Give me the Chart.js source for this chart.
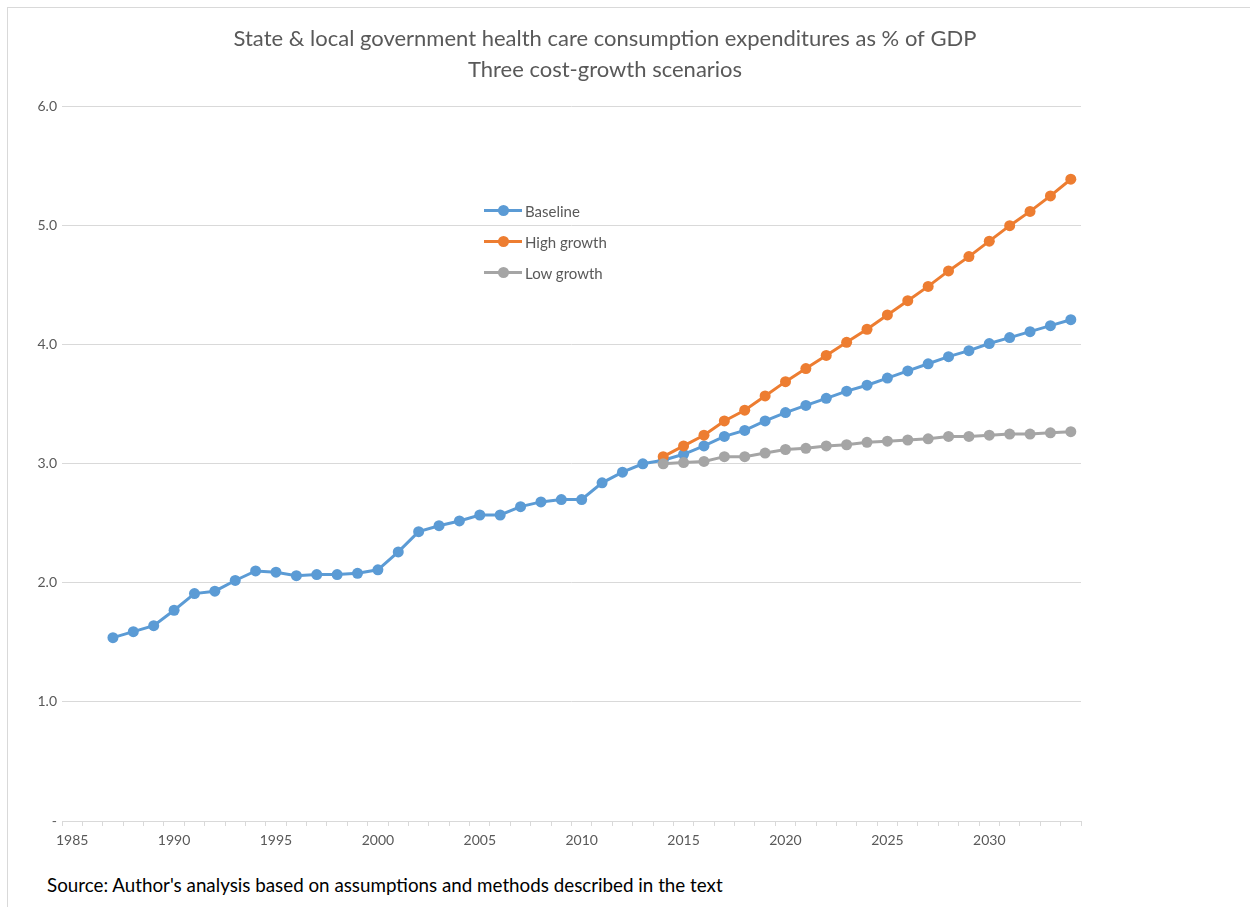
<!DOCTYPE html>
<html>
<head>
<meta charset="utf-8">
<script src="https://cdn.jsdelivr.net/npm/chart.js@4.4.0/dist/chart.umd.min.js"></script>
<style>
    body { margin: 0; background: #fff; font-family: Lato, "Noto Sans", sans-serif; }
    #frame {
        position: absolute; left: 7px; top: 7px; width: 1243px; height: 900px;
        border-top: 1px solid #d9d9d9; border-left: 1px solid #d9d9d9;
    }
    #wrap { position: absolute; left: 0; top: 0; width: 1210px; height: 860px; }
    #legend { position: absolute; left: 484px; top: 195px; }
    .legend-item { display: flex; align-items: center; height: 31px; font-size: 15px; color: #595959; }
    .legend-swatch { position: relative; width: 38px; height: 3px; margin-right: 3px; }
    .legend-swatch span {
        position: absolute; left: 14px; top: -4px; width: 11px; height: 11px; border-radius: 50%;
    }
    #source { position: absolute; left: 47px; top: 873px; font-size: 18.8px; color: #000; }
</style>
</head>
<body>
<div id="frame"></div>
<div id="wrap"><canvas id="chart"></canvas></div>
<div id="legend"></div>
<div id="source">Source: Author's analysis based on assumptions and methods described in the text</div>

<script>
const years = [];
for (let y = 1985; y <= 2034; y++) years.push(String(y));

const tickLabels = ["1985", "1990", "1995", "2000", "2005", "2010", "2015", "2020", "2025", "2030"];

// 1985..2034 (null = no value)
const baseline = [
    null, null,
    1.54, 1.59, 1.64, 1.77, 1.91, 1.93, 2.02, 2.10, 2.09, 2.06,
    2.07, 2.07, 2.08, 2.11, 2.26, 2.43, 2.48, 2.52, 2.57, 2.57,
    2.64, 2.68, 2.70, 2.70, 2.84, 2.93, 3.00, 3.03, 3.08, 3.15,
    3.23, 3.28, 3.36, 3.43, 3.49, 3.55, 3.61, 3.66, 3.72, 3.78,
    3.84, 3.90, 3.95, 4.01, 4.06, 4.11, 4.16, 4.21
];

const highGrowth = [
    null, null, null, null, null, null, null, null, null, null,
    null, null, null, null, null, null, null, null, null, null,
    null, null, null, null, null, null, null, null, null,
    3.06, 3.15, 3.24, 3.36, 3.45, 3.57, 3.69, 3.80, 3.91, 4.02,
    4.13, 4.25, 4.37, 4.49, 4.62, 4.74, 4.87, 5.00, 5.12, 5.25, 5.39
];

const lowGrowth = [
    null, null, null, null, null, null, null, null, null, null,
    null, null, null, null, null, null, null, null, null, null,
    null, null, null, null, null, null, null, null, null,
    3.00, 3.01, 3.02, 3.06, 3.06, 3.09, 3.12, 3.13, 3.15, 3.16,
    3.18, 3.19, 3.20, 3.21, 3.23, 3.23, 3.24, 3.25, 3.25, 3.26, 3.27
];

const titleLines = [
    "State & local government health care consumption expenditures as % of GDP",
    "Three cost-growth scenarios"
];

const gridColor = "#d9d9d9";
const textColor = "#595959";
const font = "Lato, 'Noto Sans', sans-serif";

function series(label, data, color, order) {
    return {
        label,
        data,
        borderColor: color,
        backgroundColor: color,
        borderWidth: 3,
        pointRadius: 5.5,
        pointBorderWidth: 0,
        pointHoverRadius: 5.5,
        spanGaps: false,
        order
    };
}

const ctx = document.getElementById("chart").getContext("2d");
const chart = new Chart(ctx, {
    type: "line",
    data: {
        labels: years,
        datasets: [
            series("Baseline", baseline, "#5B9BD5", 3),
            series("High growth", highGrowth, "#ED7D31", 2),
            series("Low growth", lowGrowth, "#A5A5A5", 1)
        ]
    },
    options: {
        responsive: true,
        maintainAspectRatio: false,
        animation: false,
        layout: { padding: 0 },
        plugins: {
            legend: { display: false },
            tooltip: { enabled: false },
            title: {
                display: true,
                text: titleLines,
                color: textColor,
                font: { family: font, size: 22, weight: "normal", lineHeight: 1.4 },
                padding: { top: 24, bottom: 21 }
            }
        },
        scales: {
            x: {
                type: "category",
                offset: true,
                grid: {
                    display: true,
                    offset: true,
                    drawOnChartArea: false,
                    drawTicks: true,
                    tickLength: 5,
                    color: gridColor
                },
                border: { display: true, color: gridColor },
                ticks: {
                    autoSkip: false,
                    maxRotation: 0,
                    color: textColor,
                    font: { family: font, size: 14 },
                    padding: 6,
                    callback: function (value) {
                        const lab = this.getLabelForValue(value);
                        return tickLabels.includes(lab) ? lab : "";
                    }
                },
                afterFit: scale => { scale.height = 39; }
            },
            y: {
                min: 0,
                max: 6,
                grid: { color: gridColor, drawTicks: false },
                border: { display: false },
                ticks: {
                    stepSize: 1,
                    color: textColor,
                    font: { family: font, size: 14 },
                    padding: 5,
                    callback: v => v === 0 ? "-" : v.toFixed(1)
                },
                afterFit: scale => { scale.width = 62; }
            },
            // empty right-hand axis: keeps the plot ending at the same place
            // while the title stays centred on the whole chart
            yRight: {
                position: "right",
                min: 0,
                max: 6,
                grid: { display: false },
                border: { display: false },
                ticks: { display: false },
                afterFit: scale => { scale.width = 129; }
            }
        }
    }
});

// legend built from the chart's datasets, stacked vertically inside the plot
const legendBox = document.getElementById("legend");
chart.data.datasets.forEach(ds => {
    const item = document.createElement("div");
    item.className = "legend-item";
    item.innerHTML = `
        <div class="legend-swatch" style="background:${ds.borderColor}">
            <span style="background:${ds.borderColor}"></span>
        </div>
        <div>${ds.label}</div>
    `;
    legendBox.appendChild(item);
});
</script>
</body>
</html>
